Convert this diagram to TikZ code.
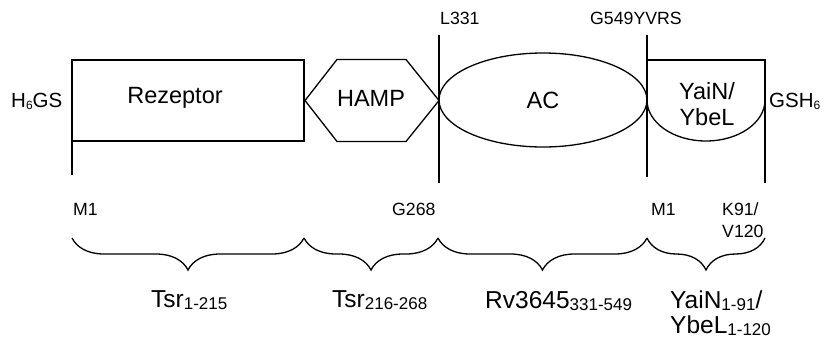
\documentclass[tikz,border=0pt]{standalone}
\usepackage{fontspec}
\setmainfont{Liberation Sans}
\usetikzlibrary{decorations.pathreplacing,shapes.geometric}
\newcommand{\fsz}[1]{\fontsize{#1}{#1}\selectfont}
\newcommand{\fszl}[2]{\fontsize{#1}{#2}\selectfont}
\newcommand{\sbs}[1]{\raisebox{-0.12em}{\fsz{17}#1}}
\begin{document}
\begin{tikzpicture}[x=1pt,y=-1pt,
  ln/.style={line width=1.3pt,line join=miter},
  boxlbl/.style={inner sep=0pt,font=\fsz{23.5}},
  endlbl/.style={inner sep=0pt,anchor=base west,font=\fsz{20.5}},
  poslbl/.style={inner sep=0pt,anchor=base west,font=\fsz{17.7}},
  domlbl/.style={inner sep=0pt,anchor=base west,font=\fsz{24.5}},
  brc/.style={line width=1.3pt,decorate,decoration={brace,mirror,amplitude=32pt}}]
\useasboundingbox (0,0) rectangle (824,343);
% coordinates
\coordinate (a0) at (72,60);
\coordinate (a1) at (304,141);
\coordinate (l331t) at (439,35);
\coordinate (l331b) at (439,183);
\coordinate (gt) at (647,35);
\coordinate (gb) at (647,177);
\coordinate (yt) at (765,60);
\coordinate (yb) at (765,183);
\coordinate (m1b) at (72,175);
% receptor box
\draw[ln] (a0) rectangle (a1);
\draw[ln] (72,141) -- (m1b);
\node[boxlbl] (rez) at (175,98) {Rezeptor};
% HAMP hexagon
\draw[ln] (305,100.5) -- (337,59.5) -- (406,59.5) -- (439,100.5) -- (406,141.5) -- (337,141.5) -- cycle;
\node[boxlbl] (hamp) at (371,98) {HAMP};
% vertical lines
\draw[ln] (l331t) -- (l331b);
\draw[ln] (gt) -- (gb);
% AC ellipse
\node[ellipse,draw,line width=1.3pt,minimum width=208pt,minimum height=94pt,inner sep=0pt] (ac) at (543,100) {};
\node[boxlbl] (aclbl) at (ac.center) {AC};
% YaiN/YbeL shape
\draw[ln] (647,60) -- (yt) -- (yb);
\draw[ln] (647,100) arc[start angle=180,end angle=360,x radius=59pt,y radius=41pt];
\node[inner sep=0pt,align=center,font=\fszl{23.5}{26.5}] (yai) at (707,104) {YaiN/\\YbeL};
% end labels
\node[endlbl] (h6gs) at (11,107) {H\raisebox{-0.1em}{\fsz{12}6}GS};
\node[endlbl] (gsh6) at (769,107) {GSH\raisebox{-0.1em}{\fsz{12}6}};
% position labels
\node[poslbl] (l331) at (440,24) {L331};
\node[poslbl] (g549) at (590,24) {G549YVRS};
\node[poslbl] (m1a) at (73,215) {M1};
\node[poslbl] (g268) at (392,215) {G268};
\node[poslbl] (m1c) at (651,215) {M1};
\node[poslbl] (k91) at (722,215) {K91/};
\node[poslbl] (v120) at (722,237) {V120};
% braces
\coordinate (b0) at (72,238);
\coordinate (b1) at (304,238);
\coordinate (b2) at (438,238);
\coordinate (b3) at (647,238);
\coordinate (b4) at (765,238);
\draw[brc] (b0) -- (b1);
\draw[brc] (b1) -- (b2);
\draw[brc] (b2) -- (b3);
\draw[brc] (b3) -- (b4);
% domain labels
\node[domlbl] (d1) at (151,307) {Tsr\sbs{1-215}};
\node[domlbl] (d2) at (332,307) {Tsr\sbs{216-268}};
\node[domlbl] (d3) at (485,308) {Rv3645\sbs{331-549}};
\node[domlbl] (d4) at (670,308) {YaiN\sbs{1-91}/};
\node[domlbl] (d5) at (670,333) {YbeL\sbs{1-120}};
\end{tikzpicture}
\end{document}
